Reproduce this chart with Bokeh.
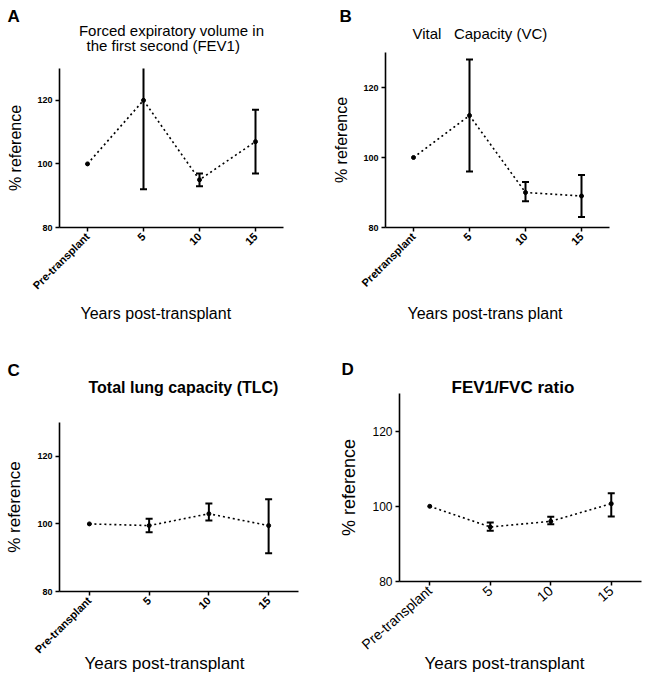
import numpy as np
from math import pi
from bokeh.plotting import figure
from bokeh.models import ColumnDataSource, Title, Range1d, FactorRange
from bokeh.layouts import column, row
from bokeh.embed import file_html
from bokeh.resources import INLINE

FONT = "Liberation Sans"

# ---- data ----
cats_fev1 = ["Pre-transplant", "5", "10", "15"]
fev1_mean = [100, 120, 95, 107]
fev1_lo = [None, 92, 93, 97]
fev1_hi = [None, 131, 97, 117]

cats_vc = ["Pretransplant", "5", "10", "15"]
vc_mean = [100, 112, 90, 89]
vc_lo = [None, 96, 87.5, 83]
vc_hi = [None, 128, 93, 95]

cats_tlc = ["Pre-transplant", "5", "10", "15"]
tlc_mean = [100, 99.5, 103, 99.5]
tlc_lo = [None, 97.5, 101, 91.3]
tlc_hi = [None, 101.5, 106, 107.3]

cats_ratio = ["Pre-transplant", "5", "10", "15"]
ratio_mean = [100, 94.5, 96, 100.7]
ratio_lo = [None, 93.5, 95.2, 97.3]
ratio_hi = [None, 95.7, 97.2, 103.5]

y_ticks = [80, 100, 120]
x_label = "Years post-transplant"
y_label = "% reference"


def fl(v):
    return np.array([np.nan if a is None else a for a in v], dtype=float)


def title(p, text, side, size, standoff, offset=0, bold=False, align="left"):
    p.add_layout(Title(text=text, align=align, offset=offset,
                       text_font=FONT, text_font_size=size,
                       text_font_style="bold" if bold else "normal",
                       text_color="black", standoff=standoff), side)


def panel(cats, mean, lo, hi, w, h, bl, br, bt, bb, ytick_size, ytick_bold,
          xtick_size, xtick_bold, xtick_angle, ylab_size, ylab_standoff):
    p = figure(x_range=FactorRange(*cats), y_range=Range1d(80, 130),
               width=w, height=h, output_backend="svg", toolbar_location=None,
               min_border_left=bl, min_border_right=br, min_border_top=bt,
               min_border_bottom=bb, frame_align=False, title=None)
    p.outline_line_color = None
    p.grid.visible = False
    src = ColumnDataSource(dict(x=cats, m=mean, lo=fl(lo), hi=fl(hi)))
    p.line("x", "m", source=src, line_color="black", line_width=1.6,
           line_dash="2 3")
    p.segment(x0="x", y0="lo", x1="x", y1="hi", source=src,
              line_color="black", line_width=2)
    p.scatter("x", "lo", source=src, marker="dash", size=7,
              line_color="black", line_width=2)
    p.scatter("x", "hi", source=src, marker="dash", size=7,
              line_color="black", line_width=2)
    p.scatter("x", "m", source=src, size=4, color="black")

    for ax in (p.xaxis[0], p.yaxis[0]):
        ax.axis_line_width = 1.6
        ax.axis_line_color = "black"
        ax.major_tick_line_color = "black"
        ax.major_tick_line_width = 1.5
        ax.major_tick_in = 0
        ax.major_tick_out = 4
        ax.minor_tick_line_color = None
        ax.major_label_text_font = FONT
        ax.major_label_text_color = "black"
        ax.axis_label_text_color = "black"

    p.yaxis.ticker = y_ticks
    p.yaxis.major_label_text_font_size = ytick_size
    p.yaxis.major_label_text_font_style = "bold" if ytick_bold else "normal"
    p.yaxis.major_label_standoff = 3
    p.yaxis.axis_label = y_label
    p.yaxis.axis_label_text_font = FONT
    p.yaxis.axis_label_text_font_style = "normal"
    p.yaxis.axis_label_text_font_size = ylab_size
    p.yaxis.axis_label_standoff = ylab_standoff

    p.xaxis.major_label_orientation = xtick_angle
    p.xaxis.major_label_text_font_size = xtick_size
    p.xaxis.major_label_text_font_style = "bold" if xtick_bold else "normal"
    p.xaxis.major_label_standoff = 3
    return p


# ---- A ----
pA = panel(cats_fev1, fev1_mean, fev1_lo, fev1_hi, 325, 340, 59, 42, 68, 113,
           "9px", True, "11px", True, pi / 4, "16px", 10)
title(pA, " ", "above", "10px", 2)
title(pA, "the first second (FEV1)", "above", "15px", 0, offset=27)
title(pA, "Forced expiratory volume in", "above", "15px", -8, align="center")
title(pA, "A", "above", "17px", -4, offset=-52, bold=True)
title(pA, x_label, "below", "16px", 8, offset=21)

# ---- B ----
pB = panel(cats_vc, vc_mean, vc_lo, vc_hi, 324, 340, 60, 40, 52, 113,
           "9px", True, "11px", True, pi / 4, "16px", 10)
title(pB, " ", "above", "8px", 0)
title(pB, "Vital\u00a0\u00a0\u00a0Capacity (VC)", "above", "15px", 0, offset=27)
title(pB, "B", "above", "17px", -6, offset=-46, bold=True)
title(pB, "Years post-trans plant", "below", "16px", 12, offset=22)

# ---- C ----
pC = panel(cats_tlc, tlc_mean, tlc_lo, tlc_hi, 325, 338, 59, 27, 82, 87,
           "9px", True, "11px", True, pi / 4, "17px", 10)
title(pC, " ", "above", "10px", 14)
title(pC, "Total lung capacity (TLC)", "above", "16px", 0, offset=29, bold=True)
title(pC, "C", "above", "17px", -7, offset=-52, bold=True)
title(pC, x_label, "below", "17px", -21, offset=25)

# ---- D ----
pD = panel(cats_ratio, ratio_mean, ratio_lo, ratio_hi, 324, 338, 74, 8, 53, 97,
           "12px", False, "14px", False, 0.72, "18px", 10)
title(pD, "FEV1/FVC ratio", "above", "17px", -7, offset=52, bold=True)
title(pD, "D", "above", "17px", 2, offset=-58, bold=True)
title(pD, x_label, "below", "17px", -19, offset=25)

layout = column(row(pA, pB, spacing=0), row(pC, pD, spacing=0), spacing=0)
open("out.html", "w").write(file_html(layout, INLINE))
